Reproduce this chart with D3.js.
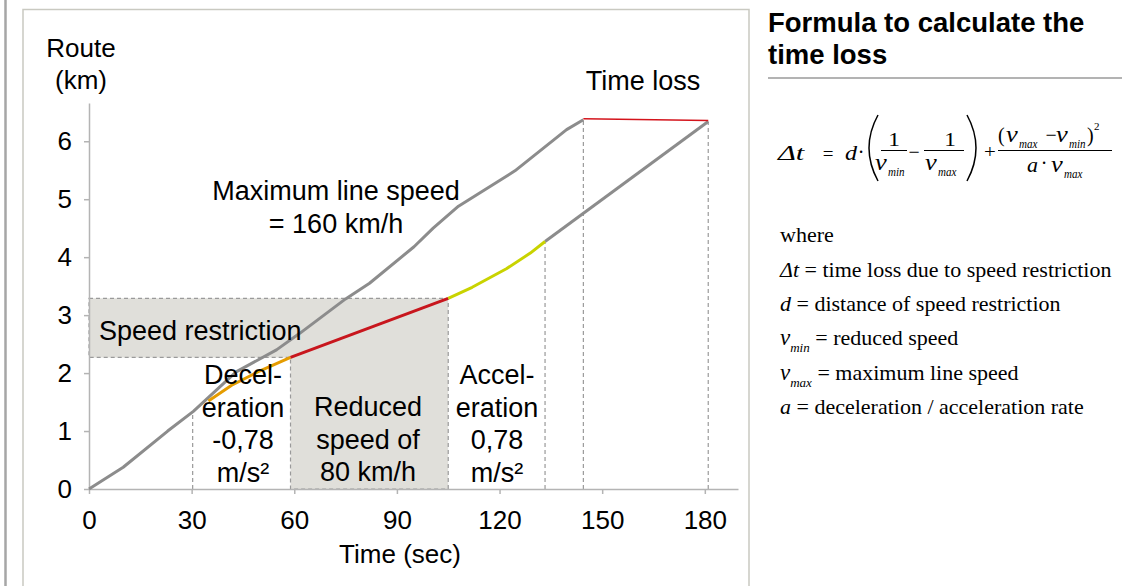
<!DOCTYPE html>
<html>
<head>
<meta charset="utf-8">
<script src="https://cdn.jsdelivr.net/npm/d3@7"></script>
<style>
  body { margin: 0; background: #fff; }
  svg text { font-family: "Liberation Sans", Arial, sans-serif; }
  svg text.serif { font-family: "Liberation Serif", "Times New Roman", serif; }
</style>
</head>
<body>
<svg id="chart"></svg>
<script>
// values: [time in sec, route in km]
const maxLine = [[0, 0], [10, 0.375], [23, 1.0], [30.5, 1.34], [43, 2.02], [54.8, 2.4], [61.7, 2.69],
  [75, 3.28], [82, 3.55], [95, 4.18], [100.6, 4.5], [108, 4.88], [124.5, 5.49], [139.6, 6.2], [144.5, 6.37]];
const decelLine = [[34.9, 1.52], [41.7, 1.79], [50, 2.04], [58.9, 2.27]];
const reducedLine = [[58.9, 2.27], [105, 3.29]];
const accelLine = [[105, 3.29], [112, 3.48], [122, 3.8], [129, 4.07], [133.3, 4.27]];
const resumeLine = [[133.3, 4.27], [181, 6.34]];
const timeLossLine = [[144.5, 6.39], [181, 6.36]];
const markers = [[30.3, 1.33], [133.3, 4.27], [144.5, 6.37], [181, 6.34]];
const restriction = { t0: 0, t1: 105, reducedFrom: 58.9, low: 2.27, high: 3.29 };
const xTicks = [0, 30, 60, 90, 120, 150, 180];
const yTicks = [0, 1, 2, 3, 4, 5, 6];

const W = 1134, H = 586;
const svg = d3.select("#chart").attr("width", W).attr("height", H);
svg.append("rect").attr("width", W).attr("height", H).attr("fill", "#fff");

// frame
svg.append("line").attr("x1", 5.5).attr("x2", 5.5).attr("y1", 0).attr("y2", H)
  .attr("stroke", "#a6a6a6").attr("stroke-width", 2.5);
svg.append("rect").attr("x", 23).attr("y", 9.5).attr("width", 726).attr("height", 600)
  .attr("fill", "none").attr("stroke", "#c9c9c1").attr("stroke-width", 1.5);

const x = d3.scaleLinear().domain([0, 189.7]).range([89, 738]);
const y = d3.scaleLinear().domain([0, 6.66]).range([489, 103]);

// speed restriction shading
const shade = [[restriction.t0, restriction.high], [restriction.t1, restriction.high], [restriction.t1, 0],
  [restriction.reducedFrom, 0], [restriction.reducedFrom, restriction.low], [restriction.t0, restriction.low]];
svg.append("path")
  .attr("d", d3.line().x(d => x(d[0])).y(d => y(d[1]))(shade) + "Z")
  .attr("fill", "#e0dfda")
  .attr("stroke", "#9a9a9a").attr("stroke-width", 1.2).attr("stroke-dasharray", "4,3");

svg.selectAll(".marker").data(markers).enter().append("line")
  .attr("class", "marker")
  .attr("x1", d => x(d[0])).attr("x2", d => x(d[0]))
  .attr("y1", y(0)).attr("y2", d => y(d[1]))
  .attr("stroke", "#9a9a9a").attr("stroke-width", 1.2).attr("stroke-dasharray", "4,3");

// axes
const axisStyle = g => {
  g.select(".domain").attr("stroke", "#b4b4b4").attr("stroke-width", 1.5);
  g.selectAll(".tick line").attr("stroke", "#b4b4b4").attr("stroke-width", 1.5);
  g.selectAll("text").attr("fill", "#000").attr("font-size", 26)
    .attr("font-family", "Liberation Sans, Arial, sans-serif");
};
svg.append("g").attr("transform", `translate(0,${y(0)})`)
  .call(d3.axisBottom(x).tickValues(xTicks).tickFormat(d3.format("d")).tickSize(5).tickSizeOuter(0).tickPadding(17))
  .call(axisStyle);
svg.append("g").attr("transform", `translate(${x(0)},0)`)
  .call(d3.axisLeft(y).tickValues(yTicks).tickFormat(d3.format("d")).tickSize(5).tickSizeOuter(0).tickPadding(12))
  .call(axisStyle);

// lines
const line = d3.line().x(d => x(d[0])).y(d => y(d[1]));
const series = [
  [maxLine, "#8c8c8c", 3],
  [resumeLine, "#8c8c8c", 3],
  [decelLine, "#e59c00", 3],
  [reducedLine, "#c8161d", 3],
  [accelLine, "#c9d300", 3],
  [timeLossLine, "#d4141c", 1.5]
];
series.forEach(([data, color, w]) => {
  svg.append("path").datum(data)
    .attr("fill", "none").attr("stroke", color).attr("stroke-width", w)
    .attr("stroke-linejoin", "round").attr("d", line);
});

// chart labels
function label(x0, y0, str, anchor = "middle", size = 27) {
  return svg.append("text").attr("x", x0).attr("y", y0).attr("text-anchor", anchor)
    .attr("font-size", size).attr("fill", "#000").text(str);
}
label(81, 57, "Route", "middle", 26);
label(81, 89, "(km)", "middle", 26);
label(643, 90, "Time loss");
label(336, 200, "Maximum line speed");
label(336, 233, "= 160 km/h");
label(99, 340, "Speed restriction", "start");
["Decel-", "eration", "-0,78", "m/s²"].forEach((s, i) => label(243, 384 + i * 32.5, s));
["Reduced", "speed of", "80 km/h"].forEach((s, i) => label(368, 416 + i * 32.5, s));
["Accel-", "eration", "0,78", "m/s²"].forEach((s, i) => label(497, 384 + i * 32.5, s));
label(400, 563, "Time (sec)", "middle", 26);

// right panel
svg.append("text").attr("x", 768).attr("y", 32).attr("font-size", 27.5).attr("font-weight", "bold")
  .text("Formula to calculate the");
svg.append("text").attr("x", 768).attr("y", 64).attr("font-size", 27.5).attr("font-weight", "bold")
  .text("time loss");
svg.append("line").attr("x1", 768).attr("x2", 1122).attr("y1", 78).attr("y2", 78)
  .attr("stroke", "#b3b3b3").attr("stroke-width", 2);

// formula, glyphs are drawn slightly stretched like the original equation image
const f = svg.append("g");
function piece(x0, y0, str, size, italic, anchor = "start", sx = 1.3) {
  return f.append("text").attr("class", "serif")
    .attr("transform", `translate(${x0},${y0}) scale(${sx},1)`)
    .attr("text-anchor", anchor).attr("font-size", size)
    .attr("font-style", italic ? "italic" : "normal").attr("fill", "#000").text(str);
}
function vsub(x0, y0, sub) {
  piece(x0, y0, "v", 24, true, "start", 1.1);
  piece(x0 + 13, y0 + 6, sub, 13, true, "start", 0.85);
}
function bar(x1, x2) {
  f.append("line").attr("x1", x1).attr("x2", x2).attr("y1", 150.5).attr("y2", 150.5)
    .attr("stroke", "#000").attr("stroke-width", 1);
}
piece(778, 160, "Δt", 21, true, "start", 1.45);
piece(828, 160, "=", 19, false, "middle", 1);
piece(845, 160, "d", 21, true, "start", 1.15);
piece(861, 159, "·", 20, false, "middle", 1);
f.append("path").attr("d", "M878,115 Q860,148 878,181").attr("fill", "none").attr("stroke", "#000").attr("stroke-width", 1.5);
f.append("path").attr("d", "M967,115 Q985,148 967,181").attr("fill", "none").attr("stroke", "#000").attr("stroke-width", 1.5);
piece(894, 146, "1", 18, false, "middle");
bar(881, 907);
vsub(875, 170, "min");
piece(914, 158, "−", 18, false, "middle", 1.1);
piece(950, 146, "1", 18, false, "middle");
bar(924, 964);
vsub(925, 170, "max");
piece(990, 158, "+", 19, false, "middle", 1.1);
piece(998, 142, "(", 20, false, "start", 1);
vsub(1006, 142, "max");
piece(1051, 141, "−", 18, false, "middle", 1.1);
vsub(1056, 142, "min");
piece(1087, 142, ")", 20, false, "start", 1);
piece(1094, 130, "2", 11, false, "start", 1);
bar(998, 1112);
piece(1027, 172, "a", 22, true, "start", 1);
piece(1044, 170, "·", 20, false, "middle", 1);
vsub(1051, 172, "max");

// definitions
function defLine(y0, parts) {
  const t = f.append("text").attr("class", "serif").attr("x", 780).attr("y", y0).attr("fill", "#000");
  parts.forEach(p => {
    t.append("tspan").attr("font-size", p.s || 22).attr("font-style", p.i ? "italic" : "normal")
      .attr("dy", p.dy || 0).text(p.t);
  });
}
defLine(242, [{ t: "where" }]);
defLine(277, [{ t: "Δt", i: 1 }, { t: " = time loss due to speed restriction" }]);
defLine(311, [{ t: "d", i: 1 }, { t: " = distance of  speed restriction" }]);
defLine(345, [{ t: "v", i: 1, s: 23 }, { t: "min", i: 1, s: 13, dy: 7 }, { t: "  = reduced speed", dy: -7 }]);
defLine(380, [{ t: "v", i: 1, s: 23 }, { t: "max", i: 1, s: 13, dy: 7 }, { t: "  = maximum line speed", dy: -7 }]);
defLine(414, [{ t: "a", i: 1 }, { t: " = deceleration / acceleration rate" }]);
</script>
</body>
</html>
